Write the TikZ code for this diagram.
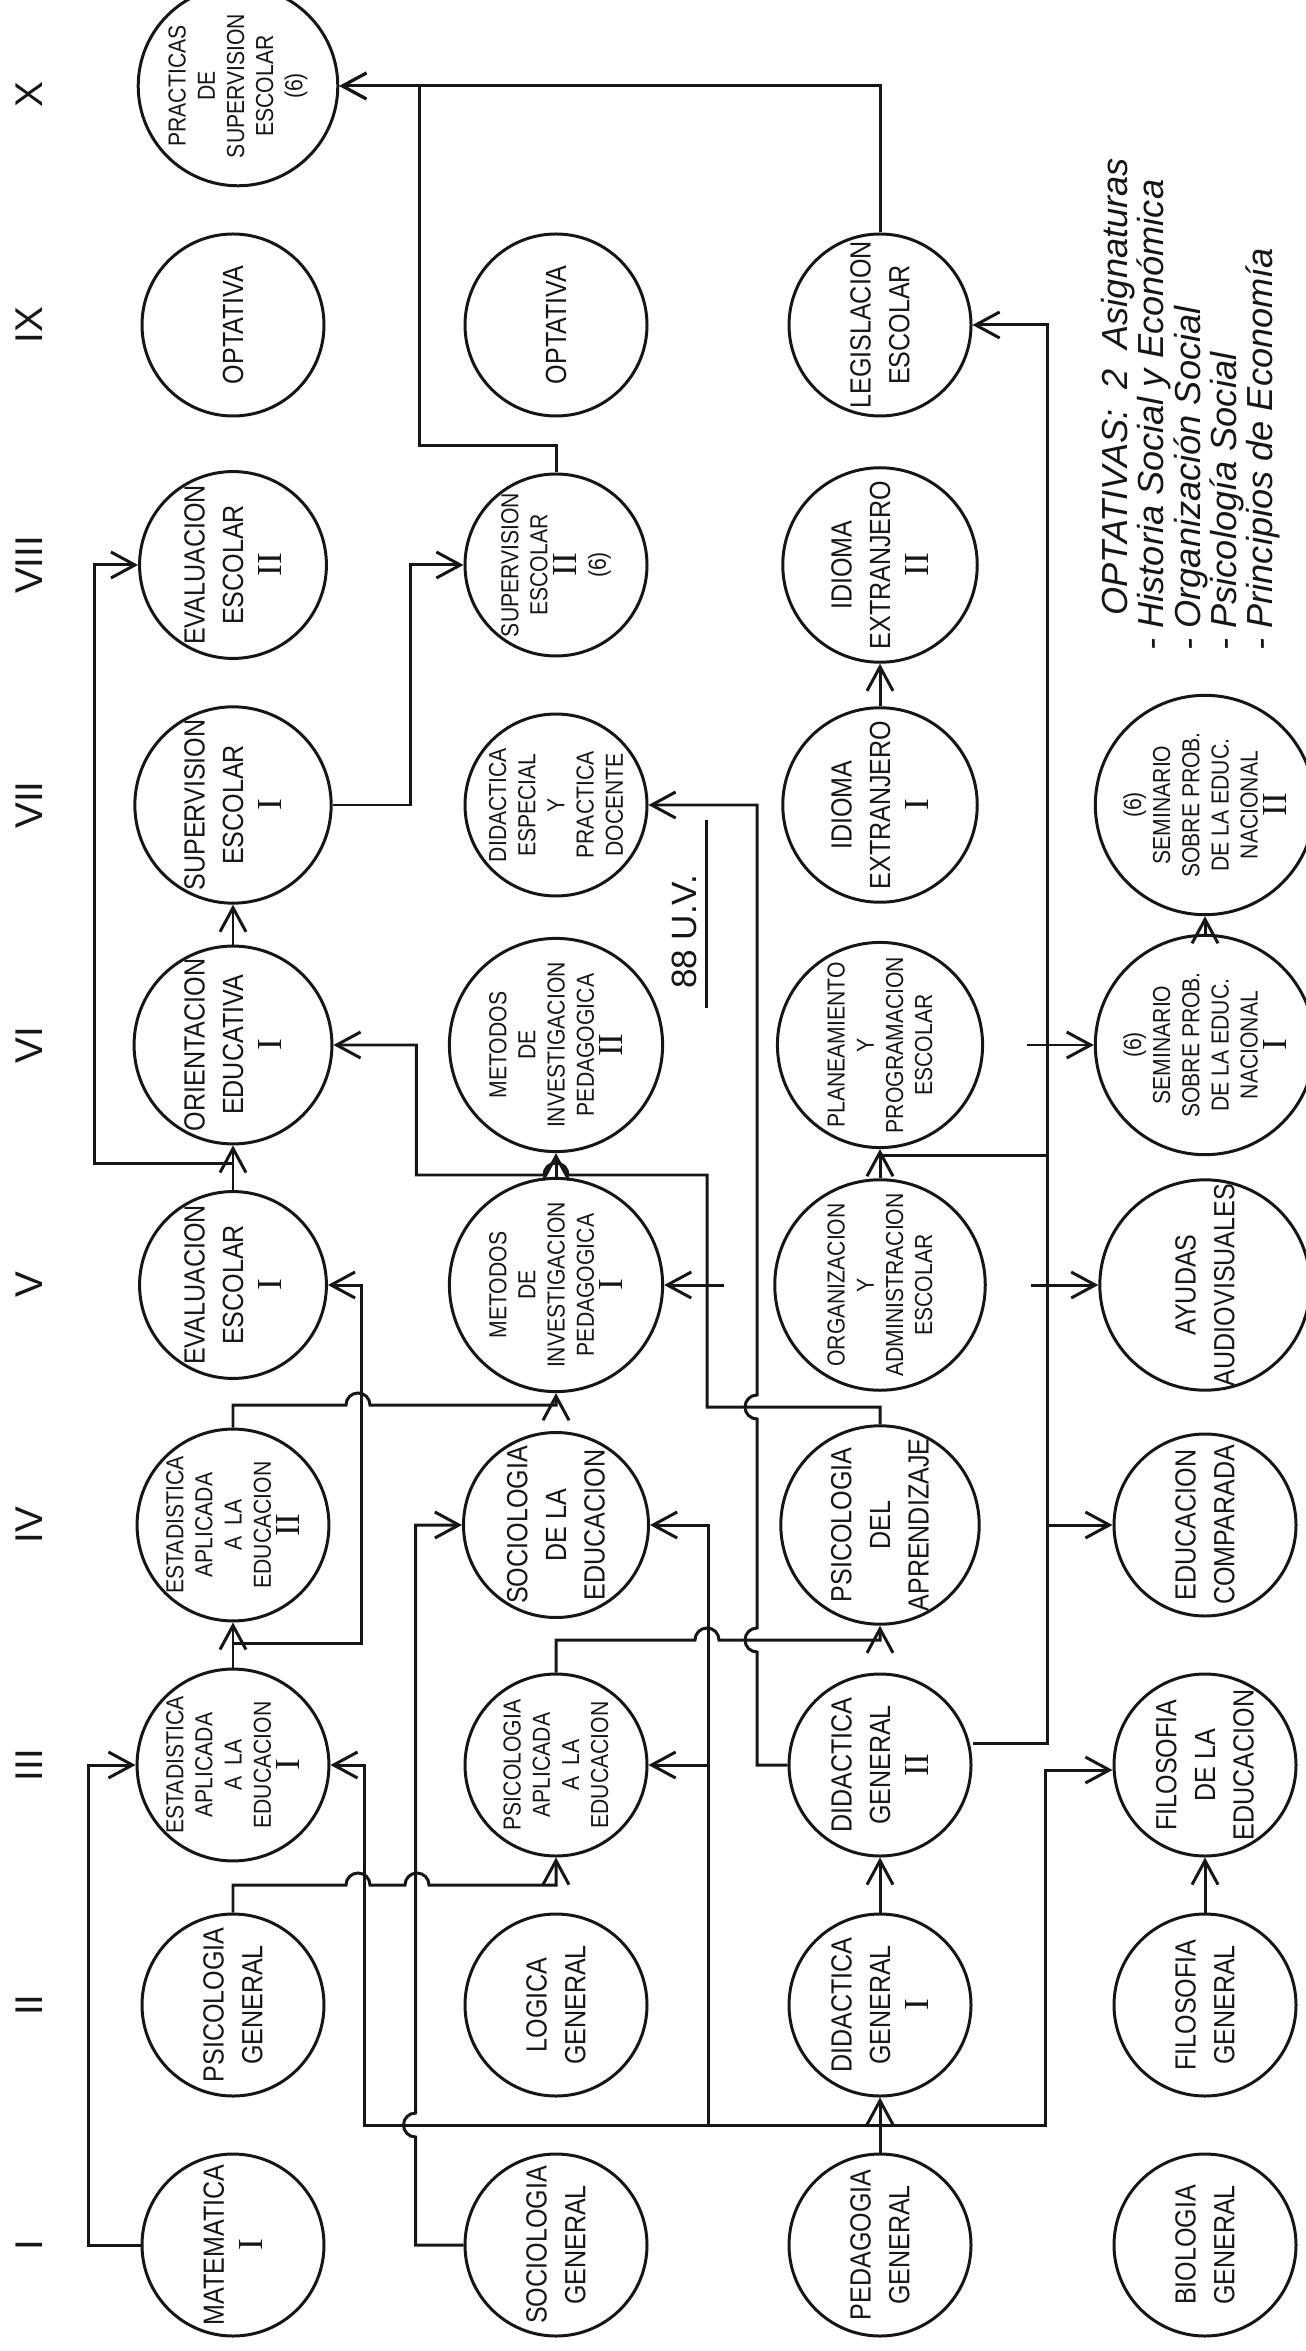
\documentclass[tikz,border=0pt]{standalone}
\usepackage{fontspec}
\setmainfont{Liberation Sans}
\newfontfamily\handfont[FakeStretch=0.86]{Liberation Sans}
\newfontfamily\romfont{Liberation Serif}
\usetikzlibrary{arrows.meta}
\definecolor{ink}{HTML}{161616}
% roman numeral inside a circle
\newcommand{\rn}[1]{{\romfont\fontsize{10}{10}\selectfont #1}}
% small bridges where two lines cross
\newcommand{\hopright}{arc[start angle=180, end angle=0, radius=1.2mm]}
\newcommand{\hopleft}{arc[start angle=0, end angle=180, radius=1.2mm]}
\newcommand{\hopup}{arc[start angle=270, end angle=90, radius=1.2mm]}

\begin{document}
\begin{tikzpicture}[
  x=1cm,
  y=1cm,
  line width=0.85pt,
  subj/.style={draw=ink, circle, minimum size=1.82cm, inner sep=0pt, rotate=90,
    align=center, text=ink, font=\handfont\fontsize{8.3}{11}\selectfont},
  dense/.style={font=\handfont\fontsize{7}{8.3}\selectfont},
  flow/.style={draw=ink, -{Straight Barb[length=2.4mm,width=2.6mm]}},
  wire/.style={draw=ink},
  term/.style={rotate=90, text=ink, font=\fontsize{11}{11}\selectfont}
]
  \useasboundingbox (0,0) rectangle (13.05,-23.51);

  % semesters
  \foreach \lab/\y in {I/-22.45, II/-20.05, III/-17.65, IV/-15.25, V/-12.85,
                       VI/-10.45, VII/-8.05, VIII/-5.65, IX/-3.25, X/-0.95}
    \node[term] (col\lab) at (0.29,\y) {\lab};

  % first line of subjects
  \node[subj] (mat) at (2.33,-22.45) {MATEMATICA\\\rn{I}};
  \node[subj] (psigen) at (2.33,-20.05) {PSICOLOGIA\\GENERAL};
  \node[subj, dense] (est1) at (2.33,-17.65) {ESTADISTICA\\APLICADA\\A\ \ LA\\EDUCACION\\\rn{I}};
  \node[subj, dense] (est2) at (2.33,-15.25) {ESTADISTICA\\APLICADA\\A\ \ LA\\EDUCACION\\\rn{II}};
  \node[subj] (eval1) at (2.33,-12.85) {EVALUACION\\ESCOLAR\\\rn{I}};
  \node[subj] (orient1) at (2.33,-10.45) {ORIENTACION\\EDUCATIVA\\\rn{I}};
  \node[subj] (sup1) at (2.33,-8.05) {SUPERVISION\\ESCOLAR\\\rn{I}};
  \node[subj] (eval2) at (2.33,-5.65) {EVALUACION\\ESCOLAR\\\rn{II}};
  \node[subj] (opt1) at (2.33,-3.25) {OPTATIVA};
  \node[subj, dense] (prac) at (2.38,-0.86) {PRACTICAS\\DE\\SUPERVISION\\ESCOLAR\\(6)};

  % second line
  \node[subj] (socgen) at (5.56,-22.45) {SOCIOLOGIA\\GENERAL};
  \node[subj] (logica) at (5.56,-20.05) {LOGICA\\GENERAL};
  \node[subj, dense] (psiapl) at (5.56,-17.65) {PSICOLOGIA\\APLICADA\\A\ \ LA\\EDUCACION};
  \node[subj] (soced) at (5.56,-15.25) {SOCIOLOGIA\\DE LA\\EDUCACION};
  \node[subj, dense] (met1) at (5.56,-12.85) {METODOS\\DE\\INVESTIGACION\\PEDAGOGICA\\\rn{I}};
  \node[subj, dense] (met2) at (5.56,-10.45) {METODOS\\DE\\INVESTIGACION\\PEDAGOGICA\\\rn{II}};
  \node[subj, dense] (didesp) at (5.56,-8.05) {DIDACTICA\\ESPECIAL\\Y\\PRACTICA\\DOCENTE};
  \node[subj, dense] (sup2) at (5.56,-5.65) {SUPERVISION\\ESCOLAR\\\rn{II}\\(6)};
  \node[subj] (opt2) at (5.56,-3.25) {OPTATIVA};

  % third line
  \node[subj] (ped) at (8.80,-22.45) {PEDAGOGIA\\GENERAL};
  \node[subj] (did1) at (8.80,-20.05) {DIDACTICA\\GENERAL\\\rn{I}};
  \node[subj] (did2) at (8.80,-17.65) {DIDACTICA\\GENERAL\\\rn{II}};
  \node[subj] (psiapr) at (8.80,-15.25) {PSICOLOGIA\\DEL\\APRENDIZAJE};
  \node[subj, dense] (org) at (8.80,-12.85) {ORGANIZACION\\Y\\ADMINISTRACION\\ESCOLAR};
  \node[subj, dense] (plan) at (8.80,-10.45) {PLANEAMIENTO\\Y\\PROGRAMACION\\ESCOLAR};
  \node[subj] (idi1) at (8.80,-8.05) {IDIOMA\\EXTRANJERO\\\rn{I}};
  \node[subj] (idi2) at (8.80,-5.65) {IDIOMA\\EXTRANJERO\\\rn{II}};
  \node[subj] (leg) at (8.80,-3.25) {LEGISLACION\\ESCOLAR};

  % fourth line
  \node[subj] (bio) at (12.05,-22.45) {BIOLOGIA\\GENERAL};
  \node[subj] (filgen) at (12.05,-20.05) {FILOSOFIA\\GENERAL};
  \node[subj] (filed) at (12.05,-17.65) {FILOSOFIA\\DE LA\\EDUCACION};
  \node[subj] (edcomp) at (12.05,-15.25) {EDUCACION\\COMPARADA};
  \node[subj] (ayud) at (12.05,-12.85) {AYUDAS\\AUDIOVISUALES};
  \node[subj, dense] (sem1) at (12.05,-10.45) {(6)\\SEMINARIO\\SOBRE PROB.\\DE LA EDUC.\\NACIONAL\\\rn{I}};
  \node[subj, dense] (sem2) at (12.05,-8.05) {(6)\\SEMINARIO\\SOBRE PROB.\\DE LA EDUC.\\NACIONAL\\\rn{II}};

  % optional subjects
  \node[rotate=90, anchor=north west, align=left, inner sep=0pt, text=ink,
        font=\itshape\fontsize{10.3}{10.3}\selectfont] (optlist) at (11.0,-6.52)
    {\hspace*{3.5mm}OPTATIVAS: \ 2 \ Asignaturas\\
     - Historia Social y Económica\\
     - Organización Social\\
     - Psicología Social\\
     - Principios de Economía};

  \node[rotate=90, text=ink, font=\fontsize{10}{10}\selectfont] (uv) at (6.84,-9.32) {88 U.V.};
  \draw[wire] (7.06,-8.20) -- (7.06,-10.08);

  % first line links
  \draw[flow] (mat.north) -- ++(-0.52,0) |- (est1.north);
  \draw[flow] (est1.east) -- (est2.west);
  \draw[flow] (est1.east) ++(0,0.24) -| ([xshift=3.4mm]eval1.south) -- (eval1.south);
  \draw[flow] (est2.east) |- (3.46,-14.05) \hopright -| (met1.west);
  \draw[flow] (eval1.east) -- (orient1.west);
  \draw[flow] (eval1.east) ++(0,0.27) -| ([xshift=-4.4mm]eval2.north) -- (eval2.north);
  \draw[flow] (orient1.east) -- (sup1.west);
  \draw[flow] (sup1.south) -| ([xshift=-5.3mm]sup2.north) -- (sup2.north);
  \draw[flow] (sup2.east) -- ++(0,0.27) -| (4.19,-0.86) -- (prac.south);
  \draw[flow] (leg.east) |- (prac.south);
  \draw[flow] (psigen.east) |- (3.46,-18.85) \hopright -- (4.05,-18.85) \hopright -| (psiapl.west);

  % pedagogia general
  \coordinate (pbus) at (8.80,-21.25);
  \draw[flow] (ped.east) -- (did1.west);
  \draw[flow] (pbus) -| ([xshift=3.4mm]est1.south) -- (est1.south);
  \draw[flow] (pbus) -| ([xshift=6mm]psiapl.south) -- (psiapl.south);
  \draw[flow] ([xshift=6mm]psiapl.south) |- (soced.south);
  \draw[flow] (pbus) -| ([xshift=-6.7mm,yshift=-0.5mm]filed.north) -- ([yshift=-0.5mm]filed.north);
  \draw[flow] (socgen.north) -- ++(-0.48,0) -- ++(0,1.08) \hopup |- (soced.north);

  \draw[flow] (did1.east) -- (did2.west);
  \draw[flow] (filgen.east) -- (filed.west);
  \draw[flow] (met1.east) -- (met2.west);
  \draw[flow] (psiapl.east) |- (6.95,-16.40) \hopright -| (psiapr.west);
  \draw[flow] (psiapr.east) |- (7.07,-14.07) |- (5.68,-11.75) \hopleft
    -| ([xshift=8.3mm]orient1.south) -- (orient1.south);
  \draw[flow] ([xshift=6mm]met1.south) -- (met1.south);
  \draw[flow] (did2.north) -| (7.57,-16.52) \hopup -- (7.57,-14.19) \hopup |- (didesp.south);

  % third and fourth line links
  \draw[flow] (org.east) -- (plan.west);
  \draw[wire] ([yshift=2.3mm]org.east) -- ++(1.67,0);
  \draw[flow] ([yshift=2.2mm]did2.south) -| (10.47,-3.25) -- (leg.south);
  \draw[flow] ([xshift=-6.7mm]edcomp.north) -- (edcomp.north);
  \draw[flow] ([xshift=-6.7mm]ayud.north) -- (ayud.north);
  \draw[flow] ([xshift=-6.7mm]sem1.north) -- (sem1.north);
  \draw[flow] (sem1.east) -- (sem2.west);
  \draw[flow] (idi1.east) -- (idi2.west);
\end{tikzpicture}
\end{document}
